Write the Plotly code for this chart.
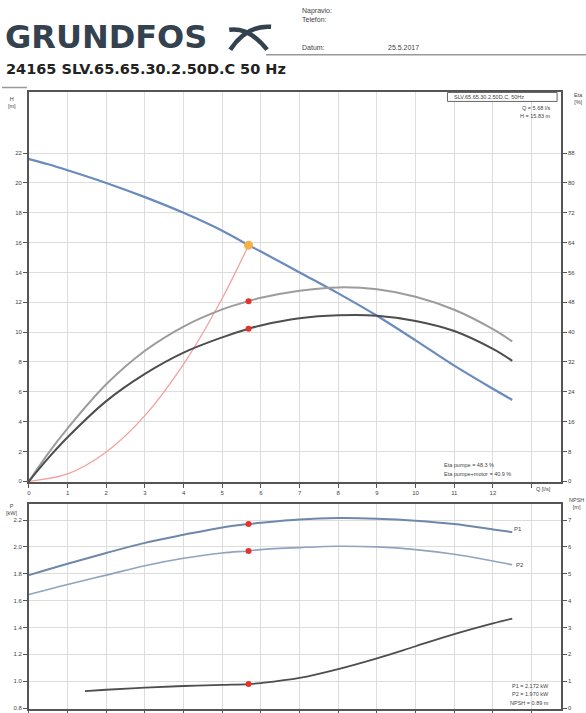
import plotly.graph_objects as go

W, H = 586, 713
def X(px): return px / W
def Y(py): return 1 - py / H

# ---------------- data ----------------
q_pump = [0, 0.5, 1, 2, 3, 4, 5, 5.68, 6, 7, 8, 9, 10, 11, 12, 12.5]
h_pump = [21.6, 21.25, 20.85, 20.0, 19.05, 18.0, 16.8, 15.83, 15.4, 14.0, 12.6, 11.1, 9.45, 7.75, 6.2, 5.45]
eta_pump = [0, 7.5, 14.2, 26.0, 35.0, 41.5, 46.1, 48.3, 49.2, 51.1, 52.0, 51.5, 49.5, 46.0, 40.8, 37.5]
eta_total = [0, 6.2, 11.8, 21.5, 28.8, 34.5, 38.6, 40.9, 41.8, 43.7, 44.5, 44.4, 43.0, 40.3, 35.5, 32.3]

q_sys = [0, 1, 2, 3, 4, 5, 5.68]
h_sys = [0, 0.49, 1.96, 4.4, 7.85, 12.27, 15.83]

q_pow = [0, 1, 2, 3, 4, 5, 5.68, 6, 7, 8, 9, 10, 11, 12, 12.5]
p1 = [1.79, 1.875, 1.955, 2.03, 2.09, 2.145, 2.17, 2.18, 2.205, 2.215, 2.21, 2.195, 2.17, 2.13, 2.11]
p2 = [1.645, 1.72, 1.79, 1.86, 1.915, 1.955, 1.97, 1.98, 1.995, 2.005, 2.0, 1.98, 1.945, 1.895, 1.867]

q_npsh = [1.45, 2, 3, 4, 5, 5.68, 6, 7, 8, 9, 10, 11, 12, 12.5]
npsh = [0.63, 0.68, 0.76, 0.82, 0.86, 0.89, 0.93, 1.12, 1.45, 1.85, 2.3, 2.75, 3.15, 3.33]

duty_q = 5.68
duty_h = 15.83
duty_eta_p = 48.3
duty_eta_t = 40.9
duty_p1 = 2.17
duty_p2 = 1.97
duty_npsh = 0.89

x_ticks = list(range(0, 14))
x_ticklabels = [str(i) for i in range(0, 13)] + [""]
h_ticks = list(range(0, 24, 2))
eta_ticks = list(range(0, 96, 8))
p_ticks = [0.8, 1.0, 1.2, 1.4, 1.6, 1.8, 2.0, 2.2]
npsh_ticks = [0, 1, 2, 3, 4, 5, 6, 7]

# ---------------- figure ----------------
fig = go.Figure()

BLUE = "#6a8bbd"
GRAY_L = "#9c9c9c"
GRAY_D = "#4e4e4e"
RED = "#e5322d"
SYS = "#f3a0a0"

fig.add_trace(go.Scatter(x=q_sys, y=h_sys, mode="lines", line=dict(color=SYS, width=1.3, shape="spline"),
                         xaxis="x", yaxis="y", hoverinfo="skip"))
fig.add_trace(go.Scatter(x=q_pump, y=eta_pump, mode="lines", line=dict(color=GRAY_L, width=2, shape="spline"),
                         xaxis="x", yaxis="y2"))
fig.add_trace(go.Scatter(x=q_pump, y=eta_total, mode="lines", line=dict(color=GRAY_D, width=2, shape="spline"),
                         xaxis="x", yaxis="y2"))
fig.add_trace(go.Scatter(x=q_pump, y=h_pump, mode="lines", line=dict(color=BLUE, width=2.2, shape="spline"),
                         xaxis="x", yaxis="y"))
fig.add_trace(go.Scatter(x=[duty_q, duty_q], y=[duty_eta_p, duty_eta_t], mode="markers",
                         marker=dict(color=RED, size=6), xaxis="x", yaxis="y2"))
fig.add_trace(go.Scatter(x=[duty_q], y=[duty_h], mode="markers",
                         marker=dict(color="#f6b04a", size=9), xaxis="x", yaxis="y"))

# bottom panel
fig.add_trace(go.Scatter(x=q_pow, y=p1, mode="lines", line=dict(color="#6d88aa", width=2, shape="spline"),
                         xaxis="x2", yaxis="y3"))
fig.add_trace(go.Scatter(x=q_pow, y=p2, mode="lines", line=dict(color="#8ea4bf", width=1.6, shape="spline"),
                         xaxis="x2", yaxis="y3"))
fig.add_trace(go.Scatter(x=q_npsh, y=npsh, mode="lines", line=dict(color=GRAY_D, width=1.8, shape="spline"),
                         xaxis="x2", yaxis="y4"))
fig.add_trace(go.Scatter(x=[duty_q, duty_q], y=[duty_p1, duty_p2], mode="markers",
                         marker=dict(color=RED, size=6), xaxis="x2", yaxis="y3"))
fig.add_trace(go.Scatter(x=[duty_q], y=[duty_npsh], mode="markers",
                         marker=dict(color=RED, size=6), xaxis="x2", yaxis="y4"))

xdom = [X(27), X(561)]
xr = [0, (561 - 27) / 38.8]
tickfont = dict(family="Liberation Sans", size=6, color="#444")
ax_common = dict(showline=True, linecolor="#555", linewidth=1.5,
                 zeroline=False, ticks="outside", ticklen=4, tickcolor="#555", tickfont=tickfont)
grid = dict(gridcolor="#dddddd", gridwidth=1)

fig.update_layout(
    width=W, height=H, margin=dict(l=0, r=0, t=0, b=0),
    paper_bgcolor="white", plot_bgcolor="white", showlegend=False,
    xaxis=dict(domain=xdom, range=xr, tickvals=x_ticks, ticktext=x_ticklabels, mirror=True,
               anchor="y", **ax_common, **grid),
    yaxis=dict(domain=[Y(485), Y(93)], range=[-1 / 15, (484 - 93) / 15], tickvals=h_ticks,
               mirror=True, anchor="x", **ax_common, **grid),
    yaxis2=dict(overlaying="y", side="right", anchor="x", range=[-1 / 3.75, (484 - 93) / 3.75],
                tickvals=eta_ticks, showgrid=False, **ax_common),
    xaxis2=dict(domain=xdom, range=xr, tickvals=x_ticks, showticklabels=False, mirror=True,
                anchor="y3", **ax_common, **grid),
    yaxis3=dict(domain=[0, Y(507)], range=[2.2 - 190 / 135, 2.2 + 16 / 135], tickvals=p_ticks,
                tickformat=".1f", mirror=True, anchor="x2", **ax_common, **grid),
    yaxis4=dict(overlaying="y3", side="right", anchor="x2", range=[7 - 190 / 27, 7 + 16 / 27],
                tickvals=npsh_ticks, showgrid=False, **ax_common),
)

def txt(text, px, py, size=7, xanchor="left", color="#444", bold=False, family="Liberation Sans"):
    fig.add_annotation(text=f"<b>{text}</b>" if bold else text, x=X(px), y=Y(py), xref="paper", yref="paper",
                       xanchor=xanchor, yanchor="middle", showarrow=False,
                       font=dict(family=family, size=size, color=color))

# header
txt("GRUNDFOS", 1, 37, size=32, color="#34414f", bold=True, family="DejaVu Sans")
fig.add_shape(type="path", xref="paper", yref="paper",
              path=f"M {X(228)} {Y(30)} Q {X(248)} {Y(27)} {X(266)} {Y(50)}",
              line=dict(color="#34414f", width=4.5))
fig.add_shape(type="path", xref="paper", yref="paper",
              path=f"M {X(229)} {Y(50)} Q {X(246)} {Y(25)} {X(270)} {Y(27)}",
              line=dict(color="#34414f", width=4.5))
txt("Napravio:", 299, 11, size=7)
txt("Telefon:", 299, 20, size=7)
txt("Datum:", 299, 48, size=7)
txt("25.5.2017", 385, 48, size=7)
fig.add_shape(type="line", xref="paper", yref="paper", x0=X(265), x1=X(586), y0=Y(55), y1=Y(55),
              line=dict(color="#999", width=1.5))
txt("24165 SLV.65.65.30.2.50D.C 50 Hz", 2, 69, size=14.5, color="#222", bold=True, family="DejaVu Sans")
fig.add_shape(type="line", xref="paper", yref="paper", x0=0, x1=X(25), y0=Y(88), y1=Y(88),
              line=dict(color="#999", width=1.5))

# top plot texts
fig.add_shape(type="rect", xref="paper", yref="paper", x0=X(447), x1=X(557), y0=Y(102), y1=Y(93),
              line=dict(color="#666", width=1), fillcolor="white")
txt("SLV.65.65.30.2.50D.C, 50Hz", 452, 97.5, size=5.5)
txt("Q = 5.68 l/s", 553, 109, size=5.5, xanchor="right")
txt("H = 15.83 m", 553, 117, size=5.5, xanchor="right")
txt("Eta pumpe = 48.3 %", 442, 468, size=5.5)
txt("Eta pumpe+motor = 40.9 %", 442, 477, size=5.5)
txt("Q [l/s]", 543, 492, size=5.5, xanchor="center")
txt("H<br>[m]", 4, 103, size=5.5)
txt("Eta<br>[%]", 572, 99, size=5.5)

# bottom plot texts
txt("P1", 512, 532, size=6)
txt("P2", 514, 568, size=6)
txt("P1 = 2.172 kW", 551, 690, size=5.5, xanchor="right")
txt("P2 = 1.970 kW", 551, 698, size=5.5, xanchor="right")
txt("NPSH = 0.89 m", 551, 707, size=5.5, xanchor="right")
txt("P<br>[kW]", 2, 512, size=5.5)
txt("NPSH<br>[m]", 567, 506, size=5.5)

fig.write_html("out.html")
